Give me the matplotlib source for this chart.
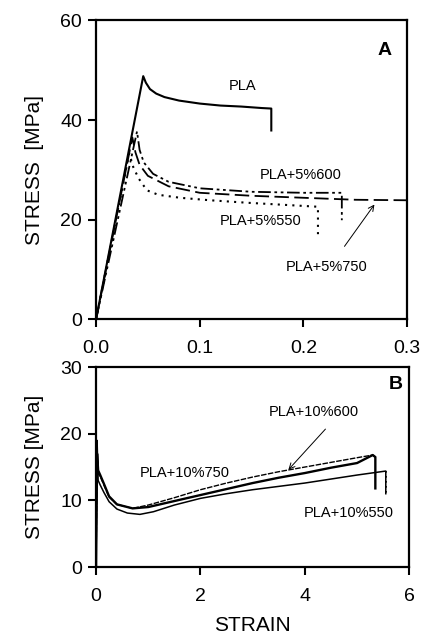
import matplotlib
matplotlib.use("Agg")
from matplotlib import pyplot as plt

plt.rcParams['font.family'] = ['Liberation Sans', 'DejaVu Sans']

# panel A: stress-strain, PLA and PLA+5% samples
pla_x = [0, 0.0455, 0.048, 0.052, 0.058, 0.066, 0.08, 0.1, 0.12, 0.14, 0.16, 0.169, 0.169]
pla_y = [0, 48.8, 47.5, 46.2, 45.3, 44.6, 43.9, 43.3, 42.9, 42.7, 42.4, 42.3, 37.9]

p550_x = [0, 0.032, 0.036, 0.041, 0.049, 0.06, 0.081, 0.11, 0.146, 0.18, 0.214, 0.214]
p550_y = [0, 33.3, 30.5, 28.3, 25.9, 25.0, 24.4, 23.9, 23.4, 23.0, 22.6, 16.9]

p600_x = [0, 0.0395, 0.042, 0.046, 0.055, 0.07, 0.1, 0.15, 0.2, 0.237, 0.237]
p600_y = [0, 37.7, 34.0, 31.5, 29.2, 27.6, 26.3, 25.6, 25.4, 25.4, 19.9]

p750_x = [0, 0.035, 0.038, 0.042, 0.05, 0.07, 0.1, 0.15, 0.2, 0.25, 0.3]
p750_y = [0, 36.5, 33.5, 31.0, 28.8, 26.7, 25.4, 24.8, 24.4, 24.0, 23.9]

# panel B: PLA+10% samples
b550_x = [0, 0.02, 0.04, 0.08, 0.15, 0.25, 0.4, 0.6, 0.84, 1.1, 1.5, 2.0, 2.5, 3.0, 3.5, 4.0, 4.5, 5.0, 5.55, 5.55]
b550_y = [0, 19.0, 13.0, 12.3, 11.2, 9.8, 8.7, 8.1, 7.9, 8.3, 9.3, 10.3, 11.0, 11.6, 12.1, 12.6, 13.2, 13.8, 14.4, 11.0]

b600_x = [0, 0.02, 0.04, 0.08, 0.15, 0.25, 0.4, 0.7, 1.0, 1.5, 2.0, 2.5, 3.0, 3.5, 4.0, 4.5, 5.0, 5.3, 5.35, 5.35]
b600_y = [0, 17.0, 14.5, 13.8, 12.5, 10.6, 9.4, 8.8, 9.0, 9.9, 10.8, 11.7, 12.6, 13.4, 14.1, 14.9, 15.6, 16.8, 16.5, 11.8]

b750_x = [0, 0.02, 0.04, 0.08, 0.15, 0.25, 0.4, 0.7, 1.0, 1.5, 2.0, 2.5, 3.0, 3.5, 4.0, 4.5, 5.0, 5.3, 5.35]
b750_y = [0, 16.0, 14.0, 13.6, 12.3, 10.5, 9.4, 8.8, 9.3, 10.4, 11.6, 12.6, 13.5, 14.3, 15.0, 15.7, 16.4, 16.8, 16.5]

top_xticks = [0.0, 0.1, 0.2, 0.3]
top_yticks = [0, 20, 40, 60]
bot_xticks = [0, 2, 4, 6]
bot_yticks = [0, 10, 20, 30]


def style_axes(ax):
    for s in ax.spines.values():
        s.set_linewidth(1.6)
    ax.tick_params(direction='out', length=6, width=1.5, labelsize=14)
    ax.tick_params(axis='x', pad=9)
    ax.tick_params(axis='y', pad=4)


fig = plt.figure(figsize=(4.25, 6.35), dpi=100)
ax1 = fig.add_axes([0.226, 0.497, 0.732, 0.471])
ax2 = fig.add_axes([0.226, 0.107, 0.737, 0.315])

ax1.plot(pla_x, pla_y, color='black', lw=1.5)
ax1.plot(p550_x, p550_y, color='black', lw=1.5, ls=(0, (1, 2.5)))
ax1.plot(p600_x, p600_y, color='black', lw=1.3, ls=(0, (7, 2, 1.5, 2, 1.5, 2)))
ax1.plot(p750_x, p750_y, color='black', lw=1.3, ls=(0, (8, 3)))

fs = 10.5
ax1.text(0.141, 46.8, 'PLA', fontsize=fs, ha='center', va='center')
ax1.text(0.197, 28.9, 'PLA+5%600', fontsize=fs, ha='center', va='center')
ax1.text(0.159, 19.7, 'PLA+5%550', fontsize=fs, ha='center', va='center')
ax1.text(0.222, 10.6, 'PLA+5%750', fontsize=fs, ha='center', va='center')
ax1.annotate('', xy=(0.27, 23.5), xytext=(0.238, 14.2),
             arrowprops=dict(arrowstyle='->', lw=0.7, color='black'))
ax1.text(0.278, 54, 'A', fontsize=14, fontweight='bold', ha='center', va='center')

ax1.set_xlim(0, 0.3)
ax1.set_ylim(0, 60)
ax1.set_xticks(top_xticks)
ax1.set_xticklabels(['0.0', '0.1', '0.2', '0.3'])
ax1.set_yticks(top_yticks)
ax1.set_ylabel('STRESS  [MPa]', fontsize=15, labelpad=12)
style_axes(ax1)

ax2.plot(b550_x, b550_y, color='black', lw=1.1)
ax2.plot(b600_x, b600_y, color='black', lw=1.7)
ax2.plot(b750_x, b750_y, color='black', lw=1.0, ls=(0, (4, 1)))
ax2.plot([5.55, 5.55], [14.4, 11.0], color='black', lw=1.2, ls=(0, (1, 2)))

ax2.text(4.18, 23.2, 'PLA+10%600', fontsize=fs, ha='center', va='center')
ax2.text(1.70, 14.1, 'PLA+10%750', fontsize=fs, ha='center', va='center')
ax2.text(4.85, 8.1, 'PLA+10%550', fontsize=fs, ha='center', va='center')
ax2.annotate('', xy=(3.65, 14.3), xytext=(4.43, 21.0),
             arrowprops=dict(arrowstyle='->', lw=0.7, color='black'))
ax2.text(5.75, 27.4, 'B', fontsize=14, fontweight='bold', ha='center', va='center')

ax2.set_xlim(0, 6)
ax2.set_ylim(0, 30)
ax2.set_xticks(bot_xticks)
ax2.set_yticks(bot_yticks)
ax2.set_xlabel('STRAIN', fontsize=15, labelpad=8)
ax2.set_ylabel('STRESS [MPa]', fontsize=15, labelpad=12)
style_axes(ax2)

fig.savefig('out.png', dpi=100)
